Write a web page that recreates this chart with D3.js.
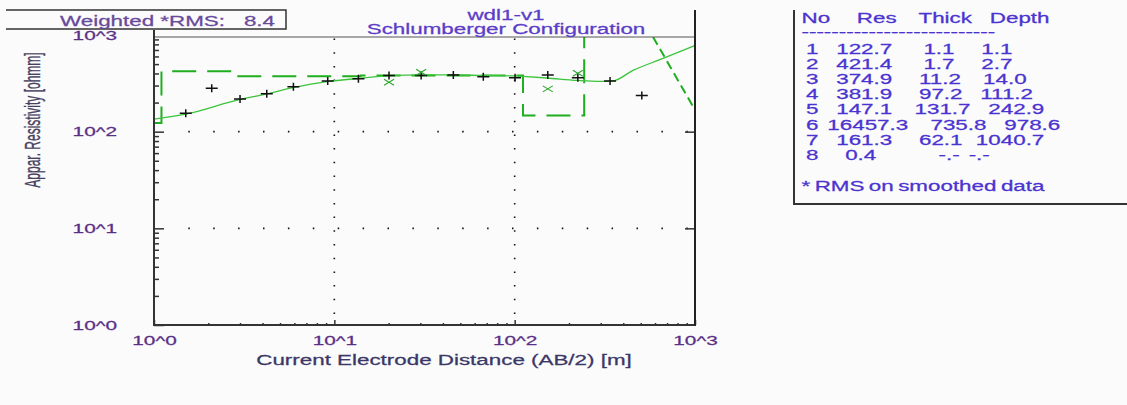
<!DOCTYPE html>
<html>
<head>
<meta charset="utf-8">
<script src="https://cdn.jsdelivr.net/npm/d3@7"></script>
<style>
body { margin: 0; background: #fbfbfb; }
svg { display: block; font-family: "Liberation Sans", Arial, sans-serif; }
</style>
</head>
<body>
<script>
// field data: AB/2 [m] and apparent resistivity [ohmm]
var obsAB2 = [1.50, 2.09, 3.0, 4.22, 5.93, 9.19, 13.6, 20.1, 30.3, 45.7, 67, 100.5, 152.6, 224, 338, 507];
var obsRho = [155, 281, 218, 247, 292, 335, 353, 380, 380, 386, 371, 362, 386, 362, 335, 236];

// smoothed points (green x)
var smoothAB2 = [20.1, 30.3, 152.6, 224];
var smoothRho = [324, 412, 277, 402];

// calculated model curve
var curveAB2 = [1.0, 1.505, 3.0, 4.18, 5.9, 9.1, 13.5, 20.1, 30.2, 45.5, 66.7, 100.4, 111.2, 151, 222, 297, 351, 453, 665, 1000];
var curveRho = [135, 152, 216, 245, 285, 329, 355, 377, 386, 386, 381, 377, 373, 359, 339, 331, 335, 430, 572, 780];

// dash-dot tail at the right edge
var tailAB2 = [585, 1000];
var tailRho = [955, 168];

// layered model
var layerNo = [1, 2, 3, 4, 5, 6, 7, 8];
var layerRes = [122.7, 421.4, 374.9, 381.9, 147.1, 16457.3, 161.3, 0.4];
var layerThick = [1.1, 1.7, 11.2, 97.2, 131.7, 735.8, 62.1, null];
var layerDepth = [1.1, 2.7, 14.0, 111.2, 242.9, 978.6, 1040.7, null];

var rmsValue = 8.4;
var decades = [1, 10, 100, 1000];
var xTickLabels = ["10^0", "10^1", "10^2", "10^3"];
var yTickLabels = ["10^0", "10^1", "10^2", "10^3"];

var width = 1127, height = 405;
var SX = 1.6;   // the screenshot is stretched sideways, so is the text

var svg = d3.select("body").append("svg")
    .attr("width", width)
    .attr("height", height);

svg.append("rect").attr("width", width).attr("height", height).attr("fill", "#fbfbfb");

var plotLeft = 154, plotRight = 695, plotTop = 37, plotBottom = 325;
var x = d3.scaleLog().domain([1, 1000]).range([plotLeft, plotRight]);
var y = d3.scaleLog().domain([1, 1000]).range([plotBottom, 35]);

function stext(parent, px, py, str, size, color, anchor, sx) {
  return parent.append("text")
    .attr("transform", "translate(" + px + "," + py + ") scale(" + (sx || SX) + ",1)")
    .attr("font-size", size)
    .attr("fill", color)
    .attr("stroke", color).attr("stroke-width", 0.25)
    .attr("text-anchor", anchor || "start")
    .text(str);
}

function stretchTicks(g, size, color) {
  g.selectAll(".tick text").each(function() {
    var t = d3.select(this);
    var tx = +t.attr("x") || 0, ty = +t.attr("y") || 0;
    t.attr("x", 0).attr("y", 0)
     .attr("transform", "translate(" + tx + "," + ty + ") scale(" + SX + ",1)")
     .attr("font-size", size)
     .attr("fill", color)
     .attr("stroke", color).attr("stroke-width", 0.25);
  });
}

var minors = [];
[1, 10, 100].forEach(function(d) { for (var k = 2; k <= 9; k++) minors.push(d * k); });

// grid dots
var gridG = svg.append("g");
[10, 100].forEach(function(d) {
  gridG.append("line")
    .attr("x1", x(d)).attr("x2", x(d))
    .attr("y1", plotTop + 1.5).attr("y2", plotBottom)
    .attr("stroke", "#111").attr("stroke-width", 1.6)
    .attr("stroke-dasharray", "1.5,12.2");
  gridG.append("line")
    .attr("x1", plotLeft + 34.3).attr("x2", plotRight)
    .attr("y1", y(d)).attr("y2", y(d))
    .attr("stroke", "#111").attr("stroke-width", 1.6)
    .attr("stroke-dasharray", "1.5,23.4");
});

// axes
var axisColor = "#333";
var labelColor = "#5a2f86";

var xMinor = svg.append("g").attr("transform", "translate(0," + plotBottom + ")")
  .call(d3.axisBottom(x).tickValues(minors).tickSize(-2).tickFormat(""));
var xMajor = svg.append("g").attr("transform", "translate(0," + plotBottom + ")")
  .call(d3.axisBottom(x).tickValues(decades).tickSizeInner(-5).tickSizeOuter(0)
        .tickPadding(11).tickFormat(function(d, i) { return xTickLabels[i]; }));
var yMinor = svg.append("g").attr("transform", "translate(" + plotLeft + ",0)")
  .call(d3.axisLeft(y).tickValues(minors).tickSize(-5).tickFormat(""));
var yMajor = svg.append("g").attr("transform", "translate(" + plotLeft + ",0)")
  .call(d3.axisLeft(y).tickValues(decades.slice(0, 3)).tickSizeInner(-10).tickSizeOuter(0)
        .tickPadding(37).tickFormat(function(d, i) { return yTickLabels[i]; }));
var yTopTick = svg.append("g").attr("transform", "translate(" + plotLeft + ",0)")
  .call(d3.axisLeft(y).tickValues([1000]).tickSizeInner(0).tickSizeOuter(0)
        .tickPadding(37).tickFormat(function() { return yTickLabels[3]; }));
var yRight = svg.append("g").attr("transform", "translate(" + plotRight + ",0)")
  .call(d3.axisRight(y).tickValues([10, 100]).tickSizeInner(-10).tickSizeOuter(0).tickFormat(""));

[xMinor, xMajor, yMinor, yMajor, yTopTick, yRight].forEach(function(g) {
  g.select(".domain").remove();
  g.selectAll(".tick line").attr("stroke", axisColor).attr("stroke-width", 1.5);
  g.attr("font-family", null).attr("font-size", null);
});
stretchTicks(xMajor, 13, labelColor);
stretchTicks(yMajor, 13, labelColor);
stretchTicks(yTopTick, 13, labelColor);

// data
svg.append("clipPath").attr("id", "plotclip").append("rect")
  .attr("x", plotLeft).attr("y", plotTop)
  .attr("width", plotRight - plotLeft).attr("height", plotBottom - plotTop);
var plot = svg.append("g").attr("clip-path", "url(#plotclip)");

var line = d3.line().x(function(d) { return x(d[0]); }).y(function(d) { return y(d[1]); });

// layer steps up to the top of layer 6
var steps = [[1, layerRes[0]]];
for (var i = 0; i < 5; i++) {
  steps.push([layerDepth[i], layerRes[i]]);
  steps.push([layerDepth[i], layerRes[i + 1]]);
}
steps.push([layerDepth[5], layerRes[5]]);

plot.append("path")
  .attr("d", line(steps))
  .attr("fill", "none").attr("stroke", "#1fae1f").attr("stroke-width", 2)
  .attr("stroke-dasharray", "24,11");

plot.append("path")
  .attr("d", line.curve(d3.curveMonotoneX)(curveAB2.map(function(d, i) { return [d, curveRho[i]]; })))
  .attr("fill", "none").attr("stroke", "#3cc43c").attr("stroke-width", 1.3);
line.curve(d3.curveLinear);

plot.append("path")
  .attr("d", line(tailAB2.map(function(d, i) { return [d, tailRho[i]]; })))
  .attr("fill", "none").attr("stroke", "#1fae1f").attr("stroke-width", 2)
  .attr("stroke-dasharray", "9,5");

plot.selectAll(".obs")
  .data(obsAB2.map(function(d, i) { return [d, obsRho[i]]; }))
  .enter().append("path")
  .attr("class", "obs")
  .attr("transform", function(d) { return "translate(" + x(d[0]) + "," + y(d[1]) + ")"; })
  .attr("d", "M-6,0H6M0,-4V4")
  .attr("stroke", "#111").attr("stroke-width", 1.5);

plot.selectAll(".sm")
  .data(smoothAB2.map(function(d, i) { return [d, smoothRho[i]]; }))
  .enter().append("path")
  .attr("class", "sm")
  .attr("transform", function(d) { return "translate(" + x(d[0]) + "," + y(d[1]) + ")"; })
  .attr("d", "M-5,-3L5,3M-5,3L5,-3")
  .attr("stroke", "#2aa52a").attr("stroke-width", 1.1);

// frame
svg.append("line").attr("x1", plotLeft).attr("x2", plotRight).attr("y1", plotTop).attr("y2", plotTop)
  .attr("stroke", "#555").attr("stroke-width", 1.2);
svg.append("line").attr("x1", plotLeft).attr("x2", plotLeft).attr("y1", 30).attr("y2", plotBottom + 1)
  .attr("stroke", axisColor).attr("stroke-width", 2);
svg.append("line").attr("x1", plotLeft).attr("x2", plotRight + 1).attr("y1", plotBottom).attr("y2", plotBottom)
  .attr("stroke", axisColor).attr("stroke-width", 2);
svg.append("line").attr("x1", plotRight).attr("x2", plotRight).attr("y1", 10).attr("y2", plotBottom + 1)
  .attr("stroke", "#222").attr("stroke-width", 2);

// titles
stext(svg, 506, 20, "wdl1-v1", 14, "#5b3dc8", "middle");
stext(svg, 506, 34, "Schlumberger Configuration", 14, "#5b3dc8", "middle");
stext(svg, 444, 365, "Current Electrode Distance (AB/2) [m]", 14, "#3b3767", "middle");
svg.append("text")
  .attr("transform", "translate(40,120) scale(1.85,1) rotate(-90)")
  .attr("font-size", 12).attr("fill", "#47405e").attr("text-anchor", "middle")
  .attr("stroke", "#47405e").attr("stroke-width", 0.2)
  .text("Appar. Resistivity [ohmm]");

// RMS box
svg.append("path")
  .attr("d", "M6,10H286V29H6")
  .attr("fill", "none").attr("stroke", "#333").attr("stroke-width", 1.5);
stext(svg, 60, 26, "Weighted *RMS:", 14, "#684a9c");
stext(svg, 275, 26, rmsValue.toFixed(1), 14, "#684a9c", "end");

// layer table
var tableColor = "#4a33d0";
svg.append("path")
  .attr("d", "M794,10V204H1127")
  .attr("fill", "none").attr("stroke", "#333").attr("stroke-width", 2);

function ptext(py, str) {
  return svg.append("text")
    .attr("transform", "translate(801.5," + py + ") scale(" + SX + ",1)")
    .attr("font-size", 14).attr("fill", tableColor)
    .attr("stroke", tableColor).attr("stroke-width", 0.25)
    .attr("xml:space", "preserve")
    .style("white-space", "pre")
    .style("word-spacing", "-1.1px")
    .text(str);
}

ptext(23, "No      Res     Thick    Depth");
ptext(37, d3.range(26).map(function() { return "-"; }).join(""));
layerNo.forEach(function(n, i) {
  var s = " " + n + layerRes[i].toFixed(1).padStart(9);
  if (layerThick[i] == null) s += "              -.-  -.-";
  else s += layerThick[i].toFixed(1).padStart(10) + layerDepth[i].toFixed(1).padStart(9);
  ptext(53.5 + i * 15.2, s);
});
ptext(190.5, "* RMS on smoothed data");
</script>
</body>
</html>
